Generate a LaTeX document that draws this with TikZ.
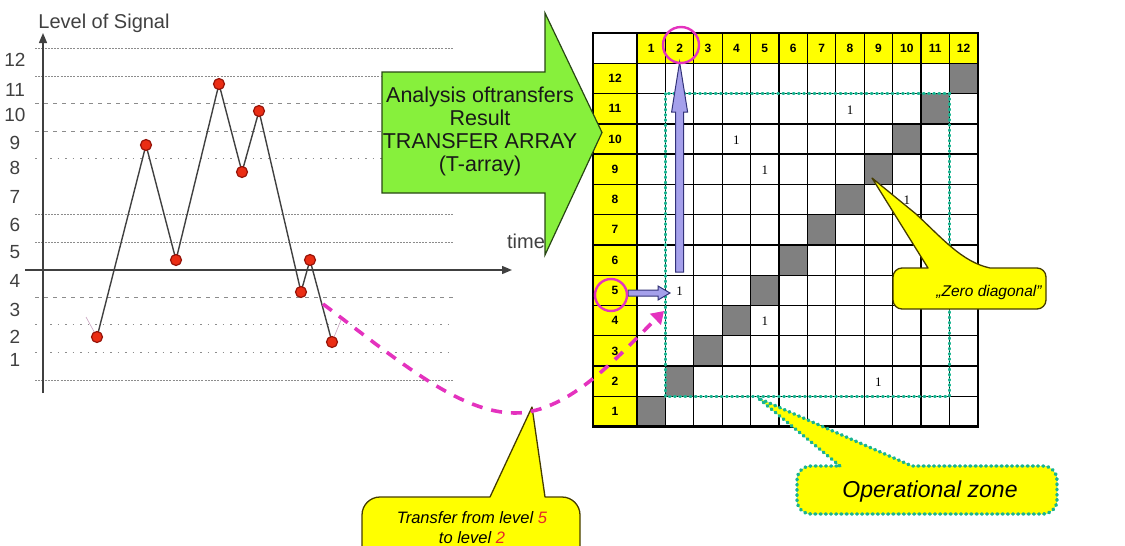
\documentclass[tikz,border=0pt]{standalone}
\usepackage{fontspec}
\setmainfont{Liberation Sans}
\newfontfamily\numserif{Liberation Serif}
\usetikzlibrary{arrows.meta,calc}

\definecolor{headyellow}{RGB}{255,255,0}
\definecolor{diaggray}{RGB}{128,128,128}
\definecolor{zoneteal}{RGB}{25,180,145}
\definecolor{linkpink}{RGB}{228,50,190}
\definecolor{lavender}{RGB}{165,160,235}
\definecolor{navyrim}{RGB}{50,50,120}
\definecolor{arrowgreen}{RGB}{135,240,60}
\definecolor{greenrim}{RGB}{40,70,20}
\definecolor{calloutrim}{RGB}{70,60,0}
\definecolor{dotred}{RGB}{235,45,20}
\definecolor{dotrim}{RGB}{150,20,10}
\definecolor{levelred}{RGB}{230,40,40}

\begin{document}
\begin{tikzpicture}[x=1pt,y=-1pt,
  levelline/.style={line width=0.9pt, draw=black!45},
  denseline/.style={levelline, dash pattern=on 2pt off 1.2pt},
  dashline/.style={levelline, dash pattern=on 4pt off 5pt},
  dotline/.style={levelline, dash pattern=on 1.5pt off 6pt},
  axisline/.style={line width=1.4pt, draw=black!75, -{Triangle[length=10pt,width=8pt]}},
  levellabel/.style={font=\fontsize{19}{19}\selectfont, text=black!75, inner sep=0pt},
  axistitle/.style={font=\fontsize{20}{20}\selectfont, text=black!75, inner sep=0pt},
  sigline/.style={line width=1.4pt, draw=black!75},
  sigtail/.style={line width=0.6pt, draw=linkpink!35!gray!60},
  sigdot/.style={circle, fill=dotred, draw=dotrim, line width=1.2pt, minimum size=11pt, inner sep=0pt},
  headcell/.style={fill=headyellow},
  diagcell/.style={fill=diaggray},
  gridline/.style={line width=1.3pt, draw=black},
  gridframe/.style={line width=2.6pt, draw=black},
  headnum/.style={font=\fontsize{12}{12}\selectfont\bfseries, inner sep=0pt},
  onecount/.style={font=\numserif\fontsize{13}{13}\selectfont, inner sep=0pt},
  zonedots/.style={draw=zoneteal, line width=3.4pt, line cap=round, dash pattern=on 1pt off 4.2pt},
  zonebox/.style={zonedots},
  pointerarrow/.style={fill=lavender, draw=navyrim, line width=1pt, line join=miter},
  markring/.style={draw=linkpink, line width=2.4pt},
  bigarrow/.style={fill=arrowgreen, draw=greenrim, line width=1.2pt, line join=miter},
  arrowtext/.style={font=\fontsize{21.5}{23}\selectfont, align=center, text=black!90, inner sep=0pt},
  callout/.style={fill=headyellow, draw=calloutrim, line width=1.3pt, line join=round},
  zonecallout/.style={fill=headyellow, zonedots, line join=round},
  callouttext/.style={font=\itshape\fontsize{16.5}{20}\selectfont, align=center, inner sep=0pt},
  linkcurve/.style={draw=linkpink, line width=3.6pt, dash pattern=on 11pt off 9pt, -{Triangle[length=12pt,width=15pt]}}
]

\useasboundingbox (0,0) rectangle (1125,546);
\clip (0,0) rectangle (1125,546);

% ---------------- signal chart ----------------
\foreach \yy in {48,76,214,242,380} \draw[denseline] (35,\yy) -- (453,\yy);
\foreach \yy in {103,131,297} \draw[dashline] (35,\yy) -- (453,\yy);
\foreach \yy in {158,324,352} \draw[dotline] (35,\yy) -- (453,\yy);

\coordinate (yfoot) at (43,393);
\coordinate (ytop) at (43,33);
\coordinate (xfoot) at (25,270);
\coordinate (xtip) at (512,270);
\draw[axisline] (yfoot) -- (ytop);
\draw[axisline] (xfoot) -- (xtip);

\node[axistitle] (ytitle) at (104,23) {Level of Signal};
\node[axistitle] (xtitle) at (526,241) {time};

\foreach \lv/\yy in {12/60,11/90,10/115,9/143,8/168,7/197,6/225,5/252,4/281,3/310,2/337,1/360}
  \node[levellabel] (lv\lv) at (15,\yy) {\lv};

\coordinate (p1) at (97,337);
\coordinate (p2) at (146,145);
\coordinate (p3) at (176,260);
\coordinate (p4) at (219,84);
\coordinate (p5) at (242,172);
\coordinate (p6) at (259,111);
\coordinate (p7) at (301,292);
\coordinate (p8) at (310,260);
\coordinate (p9) at (332,342);
\coordinate (tailA) at (86,317);
\coordinate (tailB) at (341,320);
\draw[sigtail] (tailA) -- (p1);
\draw[sigtail] (p9) -- (tailB);
\draw[sigline] (p1) -- (p2) -- (p3) -- (p4) -- (p5) -- (p6) -- (p7) -- (p8) -- (p9);
\foreach \k in {1,...,9} \node[sigdot] (d\k) at (p\k) {};

% ---------------- transfer array ----------------
% header row and row labels
\fill[white] (593,33) rectangle (637,63.3);
\foreach \c in {1,...,12} {
  \pgfmathsetmacro\xl{637+(\c-1)*28.4}
  \fill[headcell] (\xl,33) rectangle ++(28.4,30.3);
}
\foreach \r in {1,...,12} {
  \pgfmathsetmacro\yt{63.3+(12-\r)*30.28}
  \fill[headcell] (593,\yt) rectangle ++(44,30.28);
  \fill[diagcell] ({637+(\r-1)*28.4},\yt) rectangle ++(28.4,30.28);
}
% cell borders
\foreach \c in {0,...,12} \draw[gridline] ({637+\c*28.4},33) -- ({637+\c*28.4},426.7);
\foreach \r in {0,...,12} \draw[gridline] (593,{63.3+\r*30.28}) -- (977.8,{63.3+\r*30.28});
\draw[gridframe] (593,33) rectangle (977.8,426.7);

\foreach \c in {1,...,12}
  \node[headnum] (h\c) at ({637+(\c-0.5)*28.4},48.3) {\c};
\foreach \r in {1,...,12}
  \node[headnum] (r\r) at (615,{63.3+(12.5-\r)*30.28}) {\r};

% recorded transfers
\foreach \r/\c in {11/8,10/4,9/5,8/10,5/2,4/5,2/9}
  \node[onecount] (t\r x\c) at ({637+(\c-0.5)*28.4},{63.3+(12.5-\r)*30.28+1}) {1};

% operational zone
\draw[zonebox] (665.4,93.6) rectangle (949.4,396.6);

% pointers from row label 5 and towards column 2
\coordinate (vbot) at (679.6,272);
\coordinate (vtip) at (679.6,62);
\draw[pointerarrow] ($(vbot)+(-4,0)$) -- ($(vtip)+(-4,50)$) -- ($(vtip)+(-8,50)$) -- (vtip)
  -- ($(vtip)+(8,50)$) -- ($(vtip)+(4,50)$) -- ($(vbot)+(4,0)$) -- cycle;
\coordinate (hbeg) at (628,293);
\coordinate (htip) at (670,293);
\draw[pointerarrow] ($(hbeg)+(0,-3)$) -- ($(htip)+(-12,-3)$) -- ($(htip)+(-12,-7)$) -- (htip)
  -- ($(htip)+(-12,7)$) -- ($(htip)+(-12,3)$) -- ($(hbeg)+(0,3)$) -- cycle;

\draw[markring] (681,45) circle[radius=18];
\draw[markring] (611,295) circle[radius=16];

% ---------------- analysis arrow ----------------
\draw[bigarrow] (382,72) -- (545,72) -- (545,13) -- (602,132.5) -- (545,255) -- (545,193) -- (382,193) -- cycle;
\node[arrowtext] (analysis) at (480,131) {Analysis oftransfers\\Result\\TRANSFER ARRAY\\(T-array)};

% ---------------- callouts ----------------
\draw[callout] (928,268) -- (872,178) -- (916,214) .. controls (942,238) and (962,262) .. (990,268)
  -- (1037,268) arc[start angle=-90,end angle=0,radius=9] -- (1046,300)
  arc[start angle=0,end angle=90,radius=9] -- (902,309)
  arc[start angle=90,end angle=180,radius=9] -- (893,277)
  arc[start angle=180,end angle=270,radius=9] -- cycle;
\node[callouttext, font=\itshape\fontsize{15.5}{18}\selectfont] (zerotxt) at (989,292) {„Zero diagonal"};

\draw[zonecallout] (840,466) -- (758,398) -- (912,466)
  -- (1043,466) arc[start angle=-90,end angle=0,radius=14] -- (1057,500)
  arc[start angle=0,end angle=90,radius=14] -- (811,514)
  arc[start angle=90,end angle=180,radius=14] -- (797,480)
  arc[start angle=180,end angle=270,radius=14] -- cycle;
\node[callouttext, font=\itshape\fontsize{23}{23}\selectfont] (zonetxt) at (930,492) {Operational zone};

\draw[callout] (490,497) -- (532,407) -- (545,497) -- (562,497)
  arc[start angle=-90,end angle=0,radius=18] -- (580,575) -- (362,575) -- (362,515)
  arc[start angle=180,end angle=270,radius=18] -- cycle;
\node[callouttext] (transfertxt) at (472,528) {Transfer from level \textcolor{levelred}{5}\\to level \textcolor{levelred}{2}};

% ---------------- transfer link ----------------
\coordinate (mstart) at (323,304);
\coordinate (mend) at (664,311);
\draw[linkcurve] (mstart) .. controls (400,362) and (460,413) .. (515,413)
  .. controls (570,413) and (622,352) .. (mend);

\end{tikzpicture}
\end{document}
